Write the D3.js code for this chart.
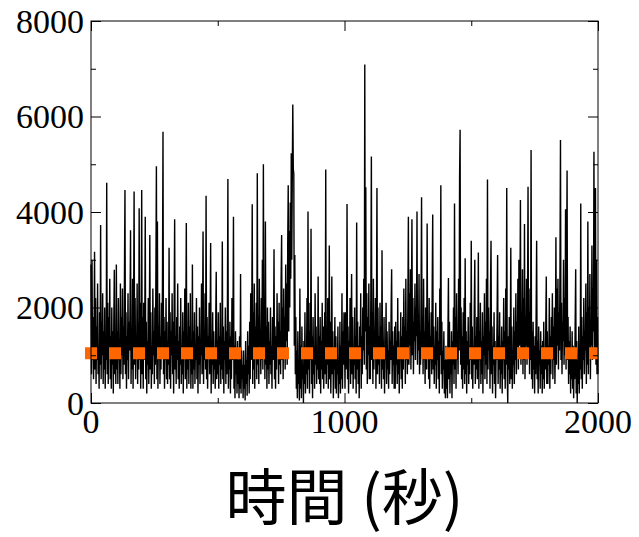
<!DOCTYPE html>
<html>
<head>
<meta charset="utf-8">
<script src="https://cdn.jsdelivr.net/npm/d3@7"></script>
<style>
  body { margin: 0; background: #fff; }
</style>
</head>
<body>
<div id="chartContainer"></div>
<script>
var timeStep = 2;
var signal = [
  // 0 - 98
  2900, 600, 3000, 900, 1800, 500, 1400, 3170, 700, 2200,
  400, 1600, 900, 2500, 600, 1200, 300, 1900, 800, 3730,
  500, 1700, 1000, 2300, 400, 1500, 700, 2000, 300, 1300,
  900, 4610, 600, 2100, 400, 1800, 1100, 2600, 500, 1400,
  300, 2000, 800, 1500, 200, 1700, 2790, 600, 1200, 400,
  // 100 - 198
  2900, 700, 1500, 400, 2200, 900, 1300, 300, 2500, 600,
  1800, 1000, 2400, 500, 1600, 800, 2700, 4460, 600, 1900,
  300, 1400, 900, 2300, 500, 1700, 1100, 2000, 3620, 400,
  1500, 700, 2600, 300, 1800, 4430, 800, 2200, 500, 1300,
  1000, 2500, 400, 1700, 700, 4080, 900, 2100, 300, 1600,
  // 200 - 298
  4460, 600, 1800, 300, 2100, 900, 1400, 3900, 500, 1700,
  200, 1300, 800, 2200, 400, 1600, 3520, 700, 1900, 300,
  1200, 600, 2400, 1000, 1500, 400, 2000, 800, 2700, 4960,
  500, 3800, 300, 1600, 900, 2300, 400, 1400, 700, 2100,
  1100, 2600, 5680, 600, 1800, 300, 1500, 900, 2200, 500,
  // 300 - 398
  1700, 400, 1300, 800, 3250, 500, 1900, 300, 1500, 1000,
  2300, 600, 1700, 200, 2000, 3850, 700, 1400, 400, 1800,
  900, 2500, 500, 1300, 300, 1600, 800, 2200, 400, 1200,
  600, 1900, 200, 1500, 1000, 2400, 500, 1700, 3770, 300,
  1400, 700, 2100, 400, 1600, 900, 2300, 300, 1200, 600,
  // 400 - 498
  2900, 300, 1500, 700, 1900, 400, 1200, 900, 2200, 500,
  1600, 200, 1400, 800, 2000, 400, 1300, 1000, 2500, 600,
  1700, 3590, 400, 1500, 900, 2300, 700, 4340, 500, 1800,
  300, 1400, 1000, 2100, 600, 1600, 3350, 200, 1300, 800,
  1900, 400, 1500, 700, 1100, 300, 1700, 2750, 500, 1300,
  // 500 - 598
  600, 1900, 300, 1400, 800, 2100, 400, 1200, 700, 3380,
  500, 1600, 200, 1300, 900, 2000, 400, 1500, 600, 1800,
  4690, 300, 1100, 700, 1700, 200, 1400, 500, 2200, 900,
  1600, 3900, 300, 1200, 100, 1500, 600, 1000, 200, 1300,
  400, 900, 100, 1400, 300, 2700, 200, 1100, 500, 800,
  // 600 - 698
  100, 1100, 300, 800, 50, 1300, 400, 900, 150, 1500,
  600, 1200, 200, 1700, 500, 2300, 900, 1400, 4160, 400,
  1900, 700, 2500, 300, 1600, 1000, 2100, 500, 4810, 800,
  1800, 400, 2600, 1200, 1500, 600, 2200, 900, 3000, 700,
  5000, 1100, 1900, 500, 3800, 800, 1600, 300, 2000, 700,
  // 700 - 798
  1700, 400, 1300, 800, 2000, 600, 1200, 300, 1800, 900,
  1500, 3220, 500, 1600, 300, 1400, 700, 2300, 1000, 1700,
  400, 2100, 800, 1500, 600, 2600, 3520, 900, 2000, 500,
  2400, 1100, 1800, 700, 2900, 1300, 2500, 800, 3300, 4560,
  1500, 3600, 2000, 4200, 2600, 5230, 3000, 4700, 6250, 4900,
  // 800 - 898
  4800, 1200, 3100, 600, 1800, 300, 1100, 100, 1500, 400,
  900, 50, 2400, 300, 1200, 100, 1600, 500, 800, 0,
  1300, 400, 1900, 200, 1000, 600, 2200, 300, 4010, 700,
  1500, 200, 2100, 900, 3650, 400, 1400, 100, 1800, 600,
  1200, 300, 2300, 800, 1600, 400, 1100, 700, 2650, 500,
  // 900 - 998
  1400, 400, 1800, 200, 1300, 700, 2100, 500, 1600, 300,
  1000, 1900, 600, 4890, 400, 1500, 800, 2200, 300, 1300,
  3300, 500, 1700, 200, 1200, 2650, 600, 1500, 100, 1100,
  700, 1800, 300, 1400, 200, 1000, 600, 1600, 100, 900,
  400, 1700, 200, 1200, 500, 2300, 300, 1500, 800, 1900,
  // 1000 - 1098
  1500, 300, 1900, 700, 1200, 4170, 500, 1600, 200, 1300,
  900, 2200, 400, 1500, 2700, 600, 1800, 300, 1100, 800,
  2000, 500, 1400, 200, 3780, 700, 1700, 400, 1200, 100,
  1600, 900, 2300, 300, 1400, 600, 2000, 1100, 2600, 800,
  7090, 1500, 4520, 700, 2300, 400, 1800, 1000, 2500, 500,
  // 1100 - 1198
  1600, 500, 2400, 5160, 900, 1900, 400, 2600, 700, 1500,
  1100, 2200, 300, 1700, 4500, 600, 2000, 800, 1400, 400,
  2100, 1000, 1600, 300, 3200, 700, 1300, 500, 1800, 200,
  1200, 900, 2100, 400, 1500, 700, 1100, 300, 1700, 600,
  1300, 900, 2000, 2800, 400, 1500, 800, 1200, 300, 1600,
  // 1200 - 1298
  300, 1700, 800, 1300, 400, 2200, 600, 1500, 200, 1100,
  900, 1900, 500, 1400, 300, 1800, 700, 2400, 1000, 1600,
  400, 2600, 900, 1500, 600, 2100, 3900, 800, 2300, 1200,
  2800, 700, 1900, 3850, 1000, 2200, 600, 1700, 1300, 2500,
  900, 2000, 1400, 4010, 800, 1800, 1100, 2700, 600, 1500,
  // 1300 - 1398
  800, 2300, 4310, 1100, 1800, 600, 2600, 900, 1500, 400,
  2000, 1200, 700, 3760, 1000, 1700, 500, 2200, 300, 1400,
  900, 1900, 600, 2500, 3950, 700, 1600, 400, 1200, 800,
  2100, 300, 1500, 900, 1800, 500, 1300, 200, 2400, 1000,
  4560, 600, 1700, 300, 1100, 700, 1500, 200, 900, 100,
  // 1400 - 1498
  1200, 300, 900, 100, 1400, 2620, 500, 1700, 200, 1100,
  600, 1500, 100, 1300, 800, 2000, 400, 4180, 700, 1800,
  300, 2300, 900, 1500, 600, 2600, 1100, 4730, 5720, 800,
  2000, 500, 1400, 300, 1900, 700, 2200, 400, 3030, 600,
  1500, 200, 1300, 800, 1800, 400, 1200, 600, 2100, 900,
  // 1500 - 1598
  3400, 500, 1600, 300, 1200, 800, 2000, 3000, 400, 1400,
  700, 1800, 500, 1100, 3150, 300, 1500, 900, 2100, 400,
  1300, 600, 1900, 200, 1400, 1000, 2300, 500, 1700, 800,
  2600, 400, 4680, 700, 2000, 1100, 1500, 300, 2400, 3400,
  600, 1600, 200, 1200, 800, 1900, 400, 1300, 100, 1000,
  // 1600 - 1698
  900, 1800, 3100, 400, 1400, 700, 1900, 300, 1200, 600,
  1600, 200, 1300, 900, 2200, 500, 1500, 300, 2400, 800,
  4500, 600, 0, 1400, 700, 1800, 400, 1200, 3250, 500,
  1600, 300, 1100, 800, 2000, 400, 1500, 900, 2300, 600,
  1700, 1000, 2600, 700, 3000, 1200, 2000, 4250, 800, 1900,
  // 1700 - 1798
  1000, 2800, 600, 2200, 900, 3750, 500, 1800, 1200, 2600,
  800, 2100, 4530, 1000, 2400, 600, 1900, 900, 5300, 500,
  1500, 300, 1700, 700, 1200, 200, 1400, 600, 1900, 3400,
  500, 1300, 200, 1600, 800, 1100, 300, 1500, 600, 1200,
  200, 1300, 500, 1700, 300, 1000, 700, 1600, 2650, 400,
  // 1800 - 1898
  1500, 400, 1200, 800, 2200, 300, 1400, 600, 1800, 1000,
  2300, 500, 1600, 900, 2000, 400, 1300, 3470, 800, 2400,
  1200, 2600, 700, 1900, 1100, 2800, 5510, 900, 2100, 600,
  1700, 1300, 3000, 800, 2200, 1000, 4060, 700, 2500, 4870,
  900, 1800, 400, 1300, 600, 1600, 200, 1100, 500, 1500,
  // 1900 - 1998
  300, 1200, 100, 1000, 500, 1700, 2800, 200, 1300, 0,
  900, 400, 1600, 200, 1100, 700, 4180, 500, 1800, 300,
  1400, 900, 2200, 600, 1500, 1100, 2500, 400, 1900, 800,
  3800, 600, 2000, 1000, 2700, 500, 1700, 1200, 3300, 900,
  2400, 1500, 5260, 1000, 2800, 4500, 800, 3000, 600, 1800,
  // 2000
  600
];
var meanLevel = [1040];

var xDomain = [0, 2000];
var yDomain = [0, 8000];
var xMajorTicks = [0, 1000, 2000];
var xMinorTicks = [500, 1500];
var yMajorTicks = [0, 2000, 4000, 6000, 8000];
var yMinorTicks = [1000, 3000, 5000, 7000];
var xTitle = "時間 (秒)";

var width = 639, height = 537;
var margin = {left: 91, top: 21, right: 41, bottom: 134};
var plotW = width - margin.left - margin.right;
var plotH = height - margin.top - margin.bottom;

var x = d3.scaleLinear().domain(xDomain).range([0, plotW]);
var y = d3.scaleLinear().domain(yDomain).range([plotH, 0]);

var svg = d3.select("#chartContainer")
    .append("svg")
    .attr("width", width)
    .attr("height", height);

svg.append("defs").append("clipPath")
    .attr("id", "plotClip")
    .append("rect")
    .attr("x", -10)
    .attr("y", 0)
    .attr("width", plotW + 10)
    .attr("height", plotH);

var g = svg.append("g")
    .attr("transform", "translate(" + margin.left + "," + margin.top + ")");

var points = signal.map(function(v, i){
    return {t: i * timeStep, v: v};
});

var line = d3.line()
    .x(function(d) { return x(d.t); })
    .y(function(d) { return y(d.v); });

g.append("path")
    .datum(points)
    .attr("d", line)
    .attr("fill", "none")
    .attr("stroke", "#000")
    .attr("stroke-width", 1.4)
    .attr("stroke-linejoin", "bevel");

// mean level, thick orange dashes
g.append("g")
    .attr("clip-path", "url(#plotClip)")
    .selectAll("line.mean")
    .data(meanLevel)
    .enter()
    .append("line")
    .attr("class", "mean")
    .attr("x1", x(xDomain[0]))
    .attr("x2", x(xDomain[1]))
    .attr("y1", function(d) { return y(d); })
    .attr("y2", function(d) { return y(d); })
    .attr("stroke", "#ff6600")
    .attr("stroke-width", 12)
    .attr("stroke-linecap", "square")
    .attr("stroke-dasharray", "0 24");

// frame
g.append("rect")
    .attr("width", plotW)
    .attr("height", plotH)
    .attr("fill", "none")
    .attr("stroke", "#000")
    .attr("stroke-width", 1);

// inward ticks on all four sides
function addTicks(axis, values, size){
    axis.tickValues(values).tickSize(-size).tickFormat("");
    return axis;
}
[[xMajorTicks, 10], [xMinorTicks, 5]].forEach(function(s){
    g.append("g").attr("transform", "translate(0," + plotH + ")")
        .call(addTicks(d3.axisBottom(x), s[0], s[1]));
    g.append("g")
        .call(addTicks(d3.axisTop(x), s[0], s[1]));
});
[[yMajorTicks, 10], [yMinorTicks, 5]].forEach(function(s){
    g.append("g")
        .call(addTicks(d3.axisLeft(y), s[0], s[1]));
    g.append("g").attr("transform", "translate(" + plotW + ",0)")
        .call(addTicks(d3.axisRight(y), s[0], s[1]));
});
g.selectAll(".domain").remove();
g.selectAll(".tick line").attr("stroke", "#000").attr("stroke-width", 1);

// tick labels
g.selectAll("text.ylab")
    .data(yMajorTicks)
    .enter()
    .append("text")
    .attr("class", "ylab")
    .attr("x", -7)
    .attr("y", function(d) { return y(d); })
    .attr("dy", "0.34em")
    .attr("text-anchor", "end")
    .attr("font-family", "'Liberation Serif', 'Times New Roman', serif")
    .attr("font-size", 34)
    .text(function(d) { return d; });

g.selectAll("text.xlab")
    .data(xMajorTicks)
    .enter()
    .append("text")
    .attr("class", "xlab")
    .attr("x", function(d) { return x(d); })
    .attr("y", plotH + 30)
    .attr("text-anchor", "middle")
    .attr("font-family", "'Liberation Serif', 'Times New Roman', serif")
    .attr("font-size", 34)
    .text(function(d) { return d; });

svg.append("text")
    .attr("x", margin.left + plotW / 2)
    .attr("y", 520)
    .attr("text-anchor", "middle")
    .attr("font-family", "'Noto Sans CJK JP'")
    .attr("font-size", 61)
    .text(xTitle);
</script>
</body>
</html>
